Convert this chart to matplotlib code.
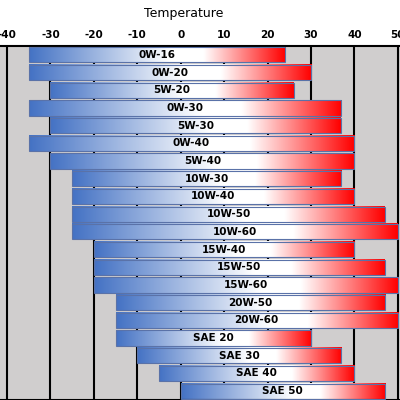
import numpy as np
import matplotlib.pyplot as plt
from matplotlib.colors import LinearSegmentedColormap

grades = ['0W-16', '0W-20', '5W-20', '0W-30', '5W-30', '0W-40', '5W-40',
          '10W-30', '10W-40', '10W-50', '10W-60', '15W-40', '15W-50', '15W-60',
          '20W-50', '20W-60', 'SAE 20', 'SAE 30', 'SAE 40', 'SAE 50']
low = [-35, -35, -30, -35, -30, -35, -30, -25, -25, -25, -25, -20, -20, -20,
       -15, -15, -15, -10, -5, 0]
high = [24, 30, 26, 37, 37, 40, 40, 37, 40, 47, 50, 40, 47, 50, 47, 50, 30, 37, 40, 47]
xticks = [-40, -30, -20, -10, 0, 10, 20, 30, 40, 50]

cmap = LinearSegmentedColormap.from_list(
    'temp', [(0, '#4472c4'), (0.55, '#ffffff'), (0.68, '#ffffff'), (1, '#ff0000')])
grad = np.linspace(0, 1, 256).reshape(1, -1)

fig = plt.figure(figsize=(4, 4), dpi=100)
ax = fig.add_axes([0.0, 0.0, 1.0, 0.885])
ax.set_facecolor('#d0cece')
for x in xticks:
    ax.axvline(x, color='black', lw=1.5, zorder=0)

h = 0.86
for i, (g, a, b) in enumerate(zip(grades, low, high)):
    ax.imshow(grad, cmap=cmap, aspect='auto', extent=(a, b, i + h / 2, i - h / 2),
              zorder=2, interpolation='bilinear')
    ax.add_patch(plt.Rectangle((a, i - h / 2), b - a, h, fill=False,
                               ec='#5a72a8', lw=0.8, zorder=3))
    ax.text((a + b) / 2, i, g, ha='center', va='center', fontsize=7.5,
            fontweight='bold', zorder=4)
ax.set_xlim(-41.6, 50.5)
ax.set_ylim(len(grades) - 0.5, -0.5)

ax.xaxis.tick_top()
ax.set_xticks(xticks)
ax.set_xticklabels([str(t) for t in xticks], fontsize=7.5, fontweight='bold')
ax.tick_params(axis='x', length=0, pad=4)
ax.set_yticks([])
for s in ['left', 'right']:
    ax.spines[s].set_visible(False)
ax.spines['top'].set_linewidth(1.5)
ax.spines['bottom'].set_linewidth(1.5)
fig.text(0.46, 0.965, 'Temperature', ha='center', va='center', fontsize=9)
fig.savefig('out.png')
